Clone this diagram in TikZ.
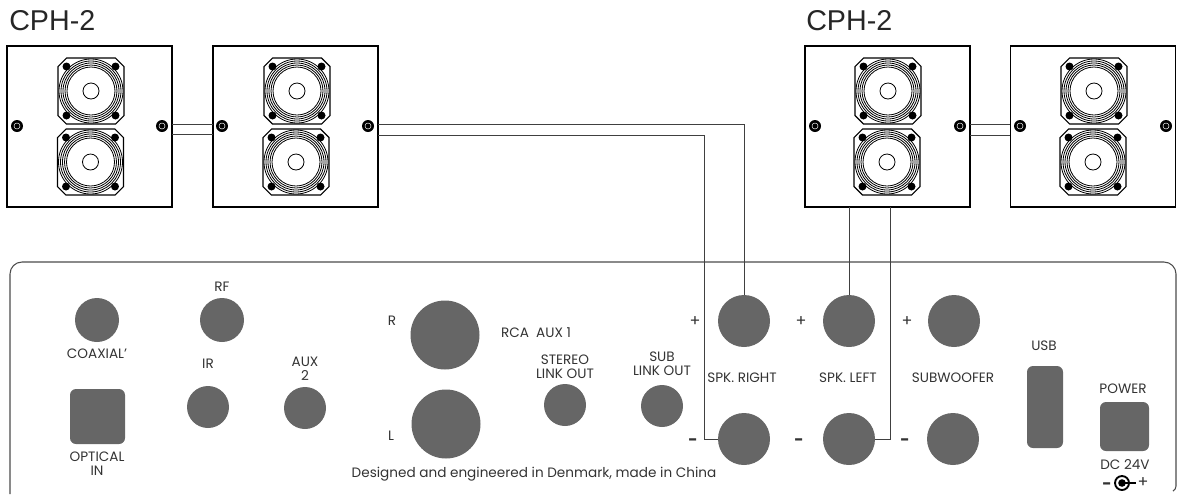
\documentclass[tikz,border=0pt]{standalone}
\usepackage{fontspec}
\setmainfont{Poppins}
\newfontfamily\titlefont{Liberation Sans}
\definecolor{jackgray}{HTML}{666666}
\tikzset{
  jack/.style={circle,fill=jackgray,inner sep=0pt,minimum size=#1*0.75pt},
  port/.style={rectangle,rounded corners=4.5pt,fill=jackgray,inner sep=0pt},
  lbl/.style={inner sep=0pt,text=black!80,font=\fontsize{10.2}{10.4}\selectfont,align=center},
  sign/.style={inner sep=0pt,text=black!80,font=\fontsize{12}{12}\selectfont},
  cabinet/.style={draw,line width=0.9pt,inner sep=0pt,minimum width=123.75pt,minimum height=120.75pt},
  wire/.style={draw=black!75,line width=0.6pt},
  heading/.style={inner sep=0pt,text=black!85,font=\titlefont\fontsize{21.5}{22}\selectfont},
}
% one driver with its frame, screws and rings
\newcommand{\driver}[2]{%
  \draw[line width=0.8pt] (#1-33,#2-24.5) -- (#1-24.5,#2-33) -- (#1+24.5,#2-33) -- (#1+33,#2-24.5) -- (#1+33,#2+24.5) -- (#1+24.5,#2+33) -- (#1-24.5,#2+33) -- (#1-33,#2+24.5) -- cycle;
  \foreach \ringr in {32,30,28,26,24}{
    \draw[line width=0.6pt] (#1,#2) circle [radius=\ringr];
  }
  \draw[line width=0.6pt] (#1,#2) circle [radius=8];
  \foreach \sx in {-24.5,24.5}{
    \foreach \sy in {-24.5,24.5}{
      \fill (#1+\sx,#2+\sy) circle [radius=4];
    }
  }
}
% one side screw
\newcommand{\bolt}[2]{%
  \fill (#1,#2) circle [radius=6];
  \draw[white,line width=0.35pt] (#1,#2) circle [radius=3];
}
\begin{document}
\begin{tikzpicture}[x=0.75pt,y=0.75pt,yscale=-1,xscale=1]
\useasboundingbox (0,0) rectangle (1178,494);

% Speakers
\node[cabinet] (boxa) at (89.5,126.5) {};
\node[cabinet] (boxb) at (295.5,126.5) {};
\node[cabinet] (boxc) at (887.5,126.5) {};
\node[cabinet] (boxd) at (1093,126.5) {};
\foreach \ux/\lx in {91/90.5,297/296,888/887,1094/1093}{
  \driver{\ux}{91}
  \driver{\lx}{162}
}
\foreach \bx in {17,162,222,368,815,960,1020,1166}{
  \bolt{\bx}{126}
}

\node[heading,anchor=west] (titlea) at (9,21) {CPH-2};
\node[heading,anchor=west] (titleb) at (806,21) {CPH-2};

% Panel
\draw[line width=0.8pt,draw=black!70] (10,494) -- (10,274) arc [start angle=180,end angle=270,radius=12] -- (1164,262) arc [start angle=270,end angle=360,radius=12] -- (1176,486) arc [start angle=0,end angle=60,radius=6];

% Jacks
\node[jack=44] (coax) at (97,320) {};
\node[jack=44] (rf) at (222,320) {};
\node[jack=42] (ir) at (208,407) {};
\node[jack=42] (auxtwo) at (305,408) {};
\node[jack=69] (rcar) at (445,335) {};
\node[jack=69] (rcal) at (446,424) {};
\node[jack=42] (stereo) at (565,405) {};
\node[jack=42] (sublink) at (662,406) {};
\node[jack=52] (rightp) at (744,321) {};
\node[jack=52] (rightn) at (744,439) {};
\node[jack=52] (leftp) at (849,321) {};
\node[jack=52] (leftn) at (849,439) {};
\node[jack=52] (subp) at (954,321) {};
\node[jack=52] (subn) at (953,439) {};
\node[port,minimum width=41.25pt,minimum height=41.25pt] (optical) at (97.5,416.5) {};
\node[port,minimum width=27pt,minimum height=61.5pt] (usb) at (1045,407) {};
\node[port,minimum width=36.75pt,minimum height=36.75pt] (power) at (1124.5,426.5) {};

% Labels
\node[lbl] (lcoax) at (97,354) {COAXIAL'};
\node[lbl] (lrf) at (222,287) {RF};
\node[lbl] (lir) at (208,364) {IR};
\node[lbl] (laux) at (305,369) {AUX\\2};
\node[lbl] (lopt) at (97,464) {OPTICAL\\IN};
\node[lbl] (lr) at (392,321) {R};
\node[lbl] (ll) at (391,436) {L};
\node[lbl] (lrca) at (536,333) {RCA\ \ AUX 1};
\node[lbl] (lstereo) at (565,367) {STEREO\\LINK OUT};
\node[lbl] (lsub) at (662,364) {SUB\\LINK OUT};
\node[lbl] (lright) at (742,378) {SPK. RIGHT};
\node[lbl] (lleft) at (848,378) {SPK. LEFT};
\node[lbl] (lwoof) at (953,378) {SUBWOOFER};
\node[lbl] (lusb) at (1044,346) {USB};
\node[lbl] (lpower) at (1123,389) {POWER};
\node[lbl] (ldc) at (1125,465) {DC 24V};
\node[lbl] (lfoot) at (534,474) {Designed and engineered in Denmark, made in China};
\foreach \px in {695,801,907}{
  \node[sign] at (\px,322) {+};
}
\foreach \px in {693,799,905}{
  \node[sign] at (\px,442) {\textbf{-}};
}

% DC symbol
\node[sign] (dcminus) at (1107,486) {\textbf{-}};
\node[sign] (dcplus) at (1143,483) {+};
\draw[line width=1.4pt] (1122,483) circle [radius=7];
\fill (1122,483) circle [radius=3.8];
\draw[line width=0.9pt] (1122,483) -- (1136,483);

% Wires
\coordinate (ab1a) at (172,124);
\coordinate (ab1b) at (213,124);
\coordinate (ab2a) at (172,134.5);
\coordinate (ab2b) at (213,134.5);
\coordinate (cd1a) at (970,124);
\coordinate (cd1b) at (1010,124);
\coordinate (cd2a) at (970,135);
\coordinate (cd2b) at (1010,135);
\coordinate (bout1) at (378,124);
\coordinate (bout2) at (378,135);
\coordinate (cout1) at (849,207);
\coordinate (cout2) at (890,207);
\coordinate (rbend) at (704,439);
\draw[wire] (ab1a) -- (ab1b);
\draw[wire] (ab2a) -- (ab2b);
\draw[wire] (cd1a) -- (cd1b);
\draw[wire] (cd2a) -- (cd2b);
\draw[wire] (bout1) -| (rightp.north);
\draw[wire] (bout2) -| (rbend) -- (rightn.west);
\draw[wire] (cout1) -- (leftp.north);
\draw[wire] (cout2) |- (leftn.east);
\end{tikzpicture}
\end{document}
